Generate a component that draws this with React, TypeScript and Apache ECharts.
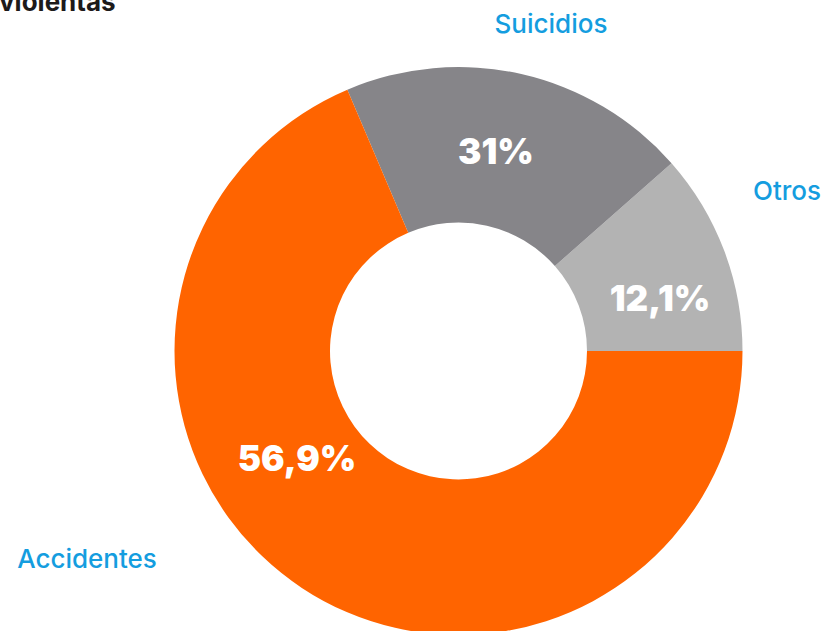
import React, { useEffect, useRef } from "react";
import * as echarts from "echarts";

const categories = ["Otros", "Suicidios", "Accidentes"];
const sliceValues = [11.5, 19.9, 68.6];
const percentLabels = ["12,1%", "31%", "56,9%"];
const sliceColors = ["#b3b3b3", "#868589", "#ff6400"];
const titleText = "violentas";

export default function App() {
  const ref = useRef<HTMLDivElement>(null);
  useEffect(() => {
    document.body.style.margin = "0";
    const chart = echarts.init(ref.current!, null, { renderer: "svg" });
    const labelPos = [
      [660, 298],
      [496, 151],
      [297, 458],
    ];
    const namePos = [
      [787, 190],
      [551, 23],
      [87, 558],
    ];
    chart.setOption({
      animation: false,
      backgroundColor: "#ffffff",
      graphic: [
        {
          type: "text",
          left: -1,
          top: -12,
          style: {
            text: titleText,
            font: "bold 26px Inter, 'Noto Sans', sans-serif",
            fill: "#1d1a1a",
          },
        },
        ...categories.map((c, i) => ({
          type: "text",
          x: namePos[i][0],
          y: namePos[i][1],
          style: {
            text: c,
            font: "500 26px Inter, 'Noto Sans', sans-serif",
            fill: "#149ddf",
            align: "center",
            verticalAlign: "middle",
          },
        })),
      ],
      series: [
        {
          type: "pie",
          center: [458.5, 351],
          radius: [128.5, 284],
          startAngle: 0,
          clockwise: false,
          silent: true,
          data: categories.map((c, i) => ({
            name: c,
            value: sliceValues[i],
            itemStyle: { color: sliceColors[i] },
          })),
          label: {
            show: true,
            position: "inside",
            formatter: (p: any) => percentLabels[p.dataIndex],
            color: "#ffffff",
            fontFamily: "Inter, 'Noto Sans', sans-serif",
            fontWeight: 900,
            fontSize: 35,
          },
          labelLine: { show: false },
          labelLayout: (p: any) => ({
            x: labelPos[p.dataIndex][0],
            y: labelPos[p.dataIndex][1],
            align: "center",
            verticalAlign: "middle",
          }),
        },
      ],
    });
    return () => chart.dispose();
  }, []);
  return <div ref={ref} style={{ width: 835, height: 631 }} />;
}
